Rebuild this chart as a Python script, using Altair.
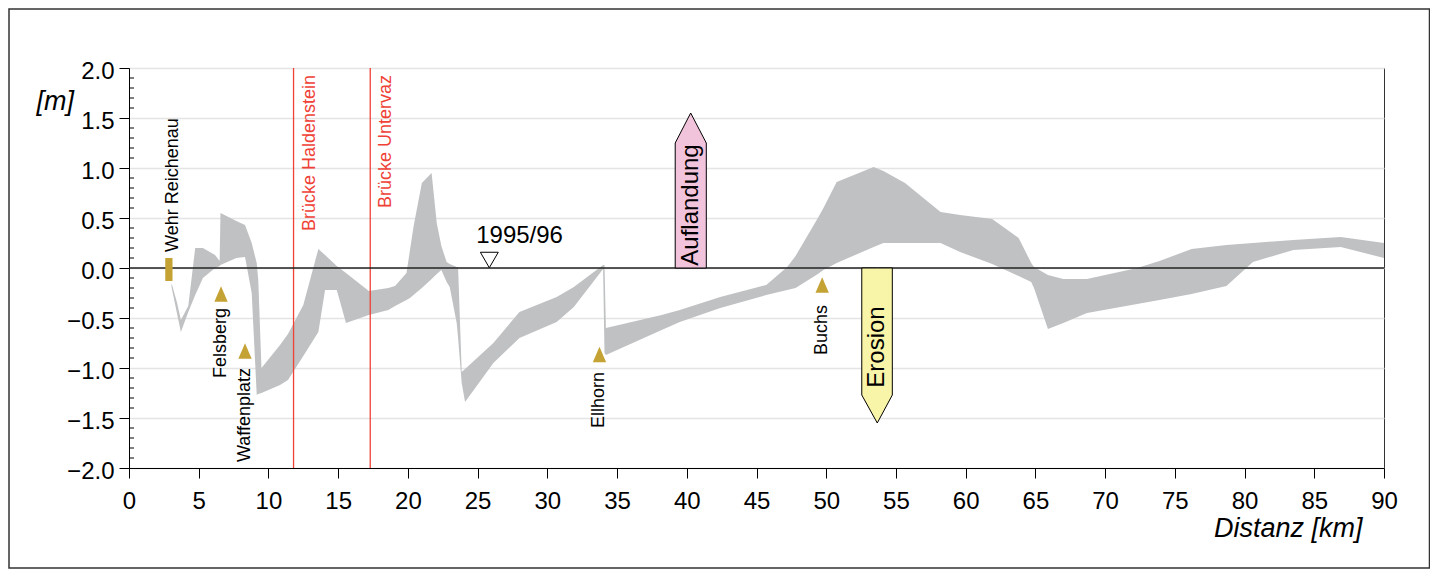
import altair as alt
import pandas as pd

FONT = "Liberation Sans"

# ---------------- data ----------------
km = [3.05, 3.45, 3.72, 4.25, 4.75, 5.3, 6.17, 6.5, 6.56, 7.7, 8.32, 8.8, 9.16, 9.27, 9.5,
      10.83, 11.4, 12.5, 13.58, 14.06, 14.9, 15.56, 17.2, 18.6, 19.08, 19.9, 20.15, 20.4,
      21.0, 21.7, 22.07, 22.4, 22.78, 23.0, 23.5, 23.6, 23.86, 24.1, 26.13, 28.0, 30.67,
      31.9, 34.0, 34.1, 34.2, 38.2, 39.5, 42.4, 45.7, 47.2, 47.8, 49.4, 49.8, 50.75, 53.4,
      54.1, 55.65, 58.2, 59.6, 61.9, 63.8, 64.7, 64.9, 65.9, 67.0, 68.7, 72.3, 73.9, 76.2,
      78.7, 80.6, 83.5, 86.9, 90.0]
upper = [-0.15, -0.35, -0.52, -0.38, 0.20, 0.20, 0.13, 0.07, 0.55, 0.47, 0.43, 0.25, 0.05,
         -0.12, -1.00, -0.77, -0.66, -0.37, 0.19, 0.13, 0.02, -0.05, -0.23, -0.20, -0.18,
         -0.05, 0.18, 0.41, 0.85, 0.95, 0.45, 0.22, 0.06, 0.04, 0.01, 0.01, -1.04, -1.01,
         -0.75, -0.44, -0.29, -0.19, 0.03, 0.03, -0.60, -0.47, -0.42, -0.29, -0.17, 0.01,
         0.12, 0.50, 0.60, 0.86, 1.01, 0.97, 0.85, 0.56, 0.53, 0.49, 0.30, 0.05, 0.01, -0.07,
         -0.11, -0.11, 0.00, 0.07, 0.19, 0.23, 0.25, 0.28, 0.31, 0.25]
lower = [-0.19, -0.46, -0.64, -0.44, -0.27, -0.10, 0.00, 0.02, 0.03, 0.10, 0.11, -0.25, -1.27,
         -1.26, -1.25, -1.17, -1.12, -0.88, -0.64, -0.22, -0.22, -0.55, -0.47, -0.42, -0.38,
         -0.32, -0.30, -0.27, -0.20, -0.11, -0.06, -0.02, -0.14, -0.19, -0.55, -0.70, -1.15,
         -1.34, -0.95, -0.70, -0.54, -0.39, -0.01, -0.85, -0.87, -0.62, -0.54, -0.40, -0.27,
         -0.22, -0.20, -0.06, -0.02, 0.05, 0.21, 0.25, 0.25, 0.25, 0.16, 0.04, -0.08, -0.14,
         -0.20, -0.61, -0.55, -0.45, -0.36, -0.32, -0.26, -0.18, 0.06, 0.18, 0.21, 0.10]

marker_names = ["Felsberg", "Waffenplatz", "Ellhorn", "Buchs"]
marker_km = [6.60, 8.32, 33.74, 49.71]
marker_m = [-0.26, -0.83, -0.865, -0.17]
marker_label_m = [-0.40, -1.00, -1.04, -0.37]

weir_name = ["Wehr Reichenau"]
weir_km = [2.6, 3.12]
weir_m = [0.10, -0.13]
weir_label_km = [3.16]
weir_label_m = [0.16]

bridge_names = ["Brücke Haldenstein", "Brücke Untervaz"]
bridge_km = [11.8, 17.3]
bridge_label_m = [1.93, 1.93]

survey_label = ["1995/96"]
survey_km = [25.84]
survey_m = [0.08]
survey_label_km = [24.9]
survey_label_m = [0.25]

auf_km = [39.17, 40.28, 41.4]
auf_top = [1.25, 1.55, 1.25]
ero_km = [52.55, 53.66, 54.74]
ero_bottom = [-1.27, -1.55, -1.27]
arrow_names = ["Auflandung", "Erosion"]
arrow_km = [40.28, 53.66]
arrow_text_m = [0.63, -0.79]

x_ticks = [0, 5, 10, 15, 20, 25, 30, 35, 40, 45, 50, 55, 60, 65, 70, 75, 80, 85, 90]
y_ticks = [-2.0, -1.5, -1.0, -0.5, 0.0, 0.5, 1.0, 1.5, 2.0]
minor_ticks = [round(-2.0 + 0.1 * i, 1) for i in range(41) if i % 5 != 0]

# ---------------- frames ----------------
band_df = pd.DataFrame({"km": km, "m": upper, "m2": lower})
marker_df = pd.DataFrame({"km": marker_km, "m": marker_m, "name": marker_names,
                          "lm": marker_label_m})
weir_df = pd.DataFrame({"km": [weir_km[0]], "km2": [weir_km[1]], "m": [weir_m[0]], "m2": [weir_m[1]]})
weir_lab_df = pd.DataFrame({"km": weir_label_km, "m": weir_label_m, "name": weir_name})
bridge_df = pd.DataFrame({"km": bridge_km, "m": bridge_label_m, "name": bridge_names})
survey_df = pd.DataFrame({"km": survey_km, "m": survey_m})
survey_lab_df = pd.DataFrame({"km": survey_label_km, "m": survey_label_m, "name": survey_label})
auf_df = pd.DataFrame({"km": auf_km, "m": auf_top, "m2": [0, 0, 0]})
ero_df = pd.DataFrame({"km": ero_km, "m": ero_bottom, "m2": [0, 0, 0]})
arrow_txt_df = pd.DataFrame({"km": arrow_km, "m": arrow_text_m, "name": arrow_names})
zero_df = pd.DataFrame({"m": [0.0]})
minor_df = pd.DataFrame({"m": minor_ticks})
one_df = pd.DataFrame({"a": [0]})

xscale = alt.Scale(domain=[0, 90], nice=False, zero=False)
yscale = alt.Scale(domain=[-2, 2], nice=False, zero=False)

X = alt.X("km:Q", scale=xscale, axis=alt.Axis(
    values=x_ticks, title="Distanz [km]", grid=False, tickSize=10, tickColor="black",
    domainColor="black", labelFontSize=24, labelColor="black", labelPadding=11,
    labelFont=FONT, titleFont=FONT, titleFontSize=27, titleFontStyle="italic",
    titleFontWeight="normal", titleColor="black", titleAnchor="end", titleAlign="right",
    titleX=1233, titleY=68, titleBaseline="alphabetic", labelFlush=False))
Y = alt.Y("m:Q", scale=yscale, axis=alt.Axis(
    values=y_ticks, format=".1f", title="[m]", grid=True, gridColor="#e4e4e4", gridWidth=1.5,
    tickSize=10, tickColor="black", domainColor="black", labelFontSize=24,
    labelColor="black", labelPadding=5, labelOffset=3, labelFont=FONT, titleFont=FONT,
    titleFontSize=27, titleFontStyle="italic", titleFontWeight="normal", titleColor="black",
    titleAngle=0, titleAlign="left", titleX=-93, titleY=41, titleBaseline="alphabetic",
    labelFlush=False))
Xp = alt.X("km:Q", scale=xscale)
Yp = alt.Y("m:Q", scale=yscale)

band = alt.Chart(band_df).mark_area(color="#bfc1c3", opacity=1).encode(
    x=X, y=Y, y2="m2:Q")

minor = alt.Chart(minor_df).mark_rule(color="black", strokeWidth=1).encode(
    y=Yp, x=alt.value(0), x2=alt.value(5))

bridges = alt.Chart(bridge_df).mark_rule(color="#ef4136", strokeWidth=1.3).encode(x=Xp)
bridge_txt = alt.Chart(bridge_df).mark_text(
    angle=270, align="right", baseline="middle", dy=16, fontSize=18, font=FONT,
    color="#ef4136").encode(x=Xp, y=Yp, text="name:N")

auf = alt.Chart(auf_df).mark_area(fill="#f2c4dc", stroke="black", strokeWidth=1,
                                   opacity=1).encode(x=Xp, y=Yp, y2="m2:Q")
ero = alt.Chart(ero_df).mark_area(fill="#f8f4a8", stroke="black", strokeWidth=1,
                                   opacity=1).encode(x=Xp, y=Yp, y2="m2:Q")

zero = alt.Chart(zero_df).mark_rule(color="#222222", strokeWidth=1.4).encode(y=Yp)

arrow_txt = alt.Chart(arrow_txt_df).mark_text(
    angle=270, align="center", baseline="middle", fontSize=24, font=FONT,
    color="black").encode(x=Xp, y=Yp, text="name:N")

weir = alt.Chart(weir_df).mark_rect(color="#c4a234").encode(
    x=Xp, x2="km2:Q", y=Yp, y2="m2:Q")
weir_txt = alt.Chart(weir_lab_df).mark_text(
    angle=270, align="left", baseline="middle", fontSize=18, font=FONT,
    color="black").encode(x=Xp, y=Yp, text="name:N")

markers = alt.Chart(marker_df).mark_point(
    shape="M0,-1L0.86,1L-0.86,1Z", filled=True, size=240, color="#c4a234",
    opacity=1).encode(x=Xp, y=Yp)
marker_txt = alt.Chart(marker_df).mark_text(
    angle=270, align="right", baseline="middle", fontSize=18, font=FONT,
    color="black").encode(x=Xp, y=alt.Y("lm:Q", scale=yscale), text="name:N")

survey = alt.Chart(survey_df).mark_point(
    shape="triangle-down", filled=True, fill="white", stroke="black", strokeWidth=1,
    size=320, opacity=1).encode(x=Xp, y=Yp)
survey_txt = alt.Chart(survey_lab_df).mark_text(
    align="left", baseline="alphabetic", fontSize=24, font=FONT, color="black").encode(
    x=Xp, y=Yp, text="name:N")

border = alt.Chart(one_df).mark_rect(filled=False, stroke="#333333", strokeWidth=1.5).encode(
    x=alt.value(-120), x2=alt.value(1300.5), y=alt.value(-59), y2=alt.value(500))

chart = alt.layer(
    band, minor, bridges, zero, auf, ero, arrow_txt, bridge_txt, weir, weir_txt,
    markers, marker_txt, survey, survey_txt, border
).properties(
    width=1255, height=400,
    padding={"left": 121, "top": 60, "right": 46, "bottom": 101},
    autosize=alt.AutoSizeParams(type="none"),
    background="white",
).configure_view(
    stroke="#333333", strokeWidth=1
).configure_axis(
    domainWidth=1, tickWidth=1
)

chart.save("out.html", embed_options={"renderer": "svg", "actions": False})
